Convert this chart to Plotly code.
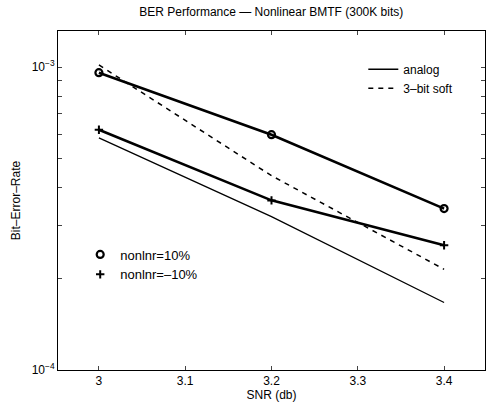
import plotly.graph_objects as go

snr = [3.0, 3.2, 3.4]
ber_pos10 = [9.58e-4, 5.98e-4, 3.41e-4]    # thick, circles (nonlnr=10%)
ber_neg10 = [6.21e-4, 3.63e-4, 2.58e-4]    # thick, plus (nonlnr=-10%)
ber_analog = [5.84e-4, 3.21e-4, 1.67e-4]   # thin solid
ber_soft = [1.016e-3, 4.38e-4, 2.15e-4]    # dashed 3-bit soft

x_ticks = [3.0, 3.1, 3.2, 3.3, 3.4]
x_ticktext = ["3", "3.1", "3.2", "3.3", "3.4"]
y_ticks = [1e-4, 2e-4, 3e-4, 4e-4, 5e-4, 6e-4, 7e-4, 8e-4, 9e-4, 1e-3]
y_ticktext = ["10<sup>−4</sup>", "", "", "", "", "", "", "", "", "10<sup>−3</sup>"]

FONT = "Liberation Sans, Arial, Helvetica, sans-serif"
fig = go.Figure()

fig.add_trace(go.Scatter(x=snr, y=ber_pos10, mode="lines+markers",
                         line=dict(color="black", width=2.6),
                         marker=dict(symbol="circle-open", size=7, color="black", line=dict(width=2.2)),
                         showlegend=False))
fig.add_trace(go.Scatter(x=snr, y=ber_neg10, mode="lines+markers",
                         line=dict(color="black", width=2.6),
                         marker=dict(symbol="cross-thin", size=6, color="black", line=dict(width=2, color="black")),
                         showlegend=False))
fig.add_trace(go.Scatter(x=snr, y=ber_analog, mode="lines",
                         line=dict(color="black", width=1.3), showlegend=False))
fig.add_trace(go.Scatter(x=snr, y=ber_soft, mode="lines",
                         line=dict(color="black", width=1.5, dash="5px,5px"), showlegend=False))

# legend entries
fig.add_trace(go.Scatter(x=[None], y=[None], mode="lines", name="analog",
                         line=dict(color="black", width=1.3), legend="legend"))
fig.add_trace(go.Scatter(x=[None], y=[None], mode="lines", name="3\u2013bit soft",
                         line=dict(color="black", width=1.5, dash="5px,5px"), legend="legend"))
fig.add_trace(go.Scatter(x=[None], y=[None], mode="markers", name="nonlnr=10%",
                         marker=dict(symbol="circle-open", size=7, color="black", line=dict(width=2.2)),
                         legend="legend2"))
fig.add_trace(go.Scatter(x=[None], y=[None], mode="markers", name="nonlnr=\u201310%",
                         marker=dict(symbol="cross-thin", size=6, color="black", line=dict(width=2, color="black")),
                         legend="legend2"))

fig.update_layout(
    width=487, height=409,
    margin=dict(l=58, r=2, t=31, b=39),
    paper_bgcolor="white", plot_bgcolor="white",
    font=dict(family=FONT, size=12, color="black"),
    title=dict(text="BER Performance \u2014 Nonlinear BMTF (300K bits)", x=0.557, xanchor="center",
               y=0.972, yanchor="middle", font=dict(size=12)),
    legend=dict(x=0.715, y=0.93, xanchor="left", yanchor="top", bgcolor="rgba(0,0,0,0)",
                font=dict(size=12), itemwidth=30, tracegroupgap=0),
    legend2=dict(x=0.052, y=0.385, xanchor="left", yanchor="top", bgcolor="rgba(0,0,0,0)",
                 font=dict(size=13), itemwidth=30),
    xaxis=dict(range=[2.9526, 3.4474], tickvals=x_ticks, ticktext=x_ticktext,
               ticks="inside", ticklen=4, showline=True, linecolor="black", linewidth=1,
               mirror="ticks", showgrid=False, zeroline=False,
               title=dict(text="SNR (db)", standoff=2, font=dict(size=12))),
    yaxis=dict(type="log", range=[-4, -2.881], tickvals=y_ticks, ticktext=y_ticktext,
               ticks="inside", ticklen=4, showline=True, linecolor="black", linewidth=1,
               mirror="ticks", showgrid=False, zeroline=False,
               title=dict(text="Bit\u2013Error\u2013Rate", standoff=8, font=dict(size=12))),
)

fig.write_html("out.html")
